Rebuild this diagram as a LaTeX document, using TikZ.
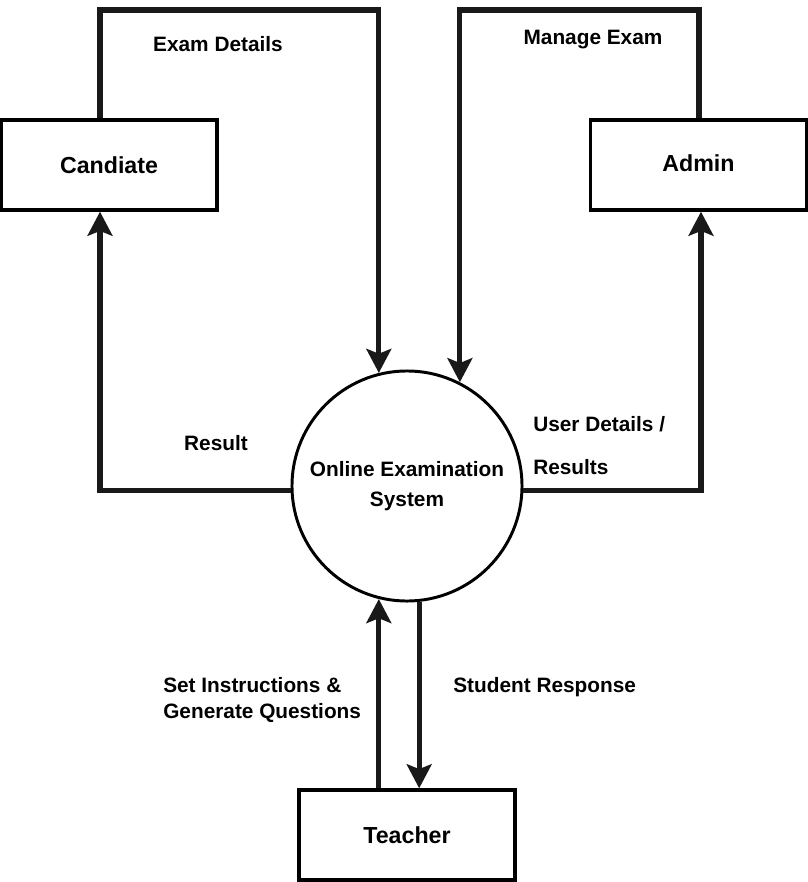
\documentclass[tikz,border=0pt]{standalone}
\usepackage{fontspec}
\setmainfont{Liberation Sans}
\usetikzlibrary{arrows.meta}

\begin{document}
\begin{tikzpicture}[x=0.025cm, y=-0.025cm,
  entidad/.style={draw, line width=2.4pt, minimum width=5.4cm, minimum height=2.25cm,
    font=\bfseries\fontsize{16.5}{20}\selectfont},
  flujo/.style={draw=black!90, line width=3.6pt,
    -{Stealth[length=0.6cm, width=0.62cm, inset=0.12cm]}},
  etiq/.style={inner sep=0pt, font=\bfseries\fontsize{14.8}{18.5}\selectfont}]
\useasboundingbox (0,0) rectangle (808,882);
% Entidades externas
\node[entidad] (cand) at (109,165) {Candiate};
\node[entidad] (adm) at (698.5,165) {\raisebox{3pt}{Admin}};
\node[entidad] (tea) at (407,835) {Teacher};

% Proceso central
\node[circle, draw, line width=2.1pt, minimum size=5.75cm, align=center,
  font=\bfseries\fontsize{14.8}{21}\selectfont] (sys) at (407,486)
  {Online Examination\\System};

% Flujos de datos
\draw[flujo] (cand.north -| 100,0) -- (100,10) -| (sys.104);
\draw[flujo] (adm.north -| 699,0) -- (699,10) -| (sys.63);
\draw[flujo] (sys.182) -| (cand.south -| 100,0);
\draw[flujo] (sys.-2) -| (adm.south -| 701,0);
\draw[flujo] (tea.north -| sys.256) -- (sys.256);
\draw[flujo] (sys.-84) -- (tea.north -| sys.-84);

% Etiquetas
\node[etiq] (lexam) at (218,44) {Exam Details};
\node[etiq] (lmanage) at (593,40) {Manage Exam};
\node[etiq] (lres) at (216,443) {Result};
\node[etiq, anchor=west] (luser) at (533,424) {User Details /};
\node[etiq, anchor=west] (lresults) at (533,467) {Results};
\node[etiq, anchor=west, align=left] (lset) at (163,700) {Set Instructions \&\\Generate Questions};
\node[etiq, anchor=west] (lstud) at (453,687) {Student Response};

\end{tikzpicture}
\end{document}
